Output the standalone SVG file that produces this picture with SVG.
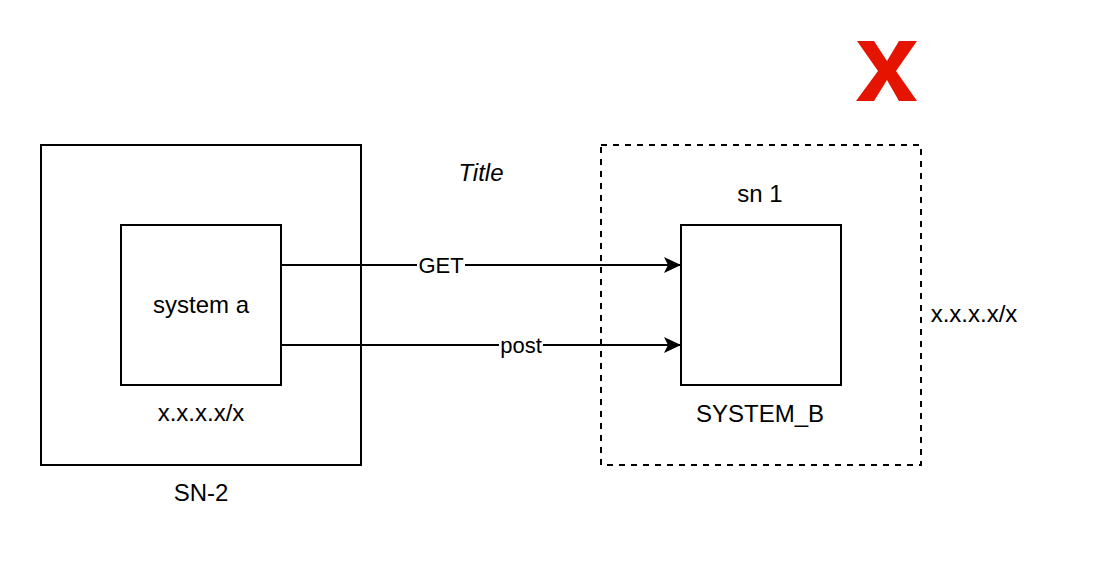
<svg xmlns="http://www.w3.org/2000/svg" width="1098" height="566" viewBox="0 0 1098 566">
  <style>
    .box { fill: #ffffff; stroke: #000000; stroke-width: 2; }
    .dash { fill: none; stroke: #000000; stroke-width: 2; stroke-dasharray: 6 6; }
    .lbl { font-family: "Liberation Sans", Helvetica, Arial, sans-serif; font-size: 24px; fill: #000000; text-anchor: middle; }
    .edge { fill: none; stroke: #000000; stroke-width: 2; }
    .elbl { font-family: "Liberation Sans", Helvetica, Arial, sans-serif; font-size: 22px; fill: #000000; text-anchor: middle; }
  </style>
  <defs>
    <marker id="arrow" markerUnits="userSpaceOnUse" markerWidth="20" markerHeight="20" viewBox="0 0 20 20" refX="17" refY="10" orient="auto">
      <path d="M17,10 L0,2 L4,10 L0,18 Z" fill="#000000" stroke="none"/>
    </marker>
  </defs>
  <rect width="1098" height="566" fill="#ffffff"/>

  <g id="sn2">
    <rect class="box" x="41" y="145" width="320" height="320"/>
    <text class="lbl" x="201" y="501">SN-2</text>
  </g>
  <g id="system-a">
    <rect class="box" x="121" y="225" width="160" height="160"/>
    <text class="lbl" x="201" y="313">system a</text>
  </g>
  <g id="addr-a">
    <text class="lbl" x="201" y="421">x.x.x.x/x</text>
  </g>
  <g id="sn1">
    <rect class="dash" x="601" y="145" width="320" height="320"/>
    <text class="lbl" x="760" y="202">sn 1</text>
  </g>
  <g id="addr-b">
    <text class="lbl" x="974" y="322">x.x.x.x/x</text>
  </g>
  <g id="system-b">
    <rect class="box" x="681" y="225" width="160" height="160"/>
    <text class="lbl" x="760" y="422">SYSTEM_B</text>
  </g>
  <g id="title">
    <text class="lbl" x="481" y="181" font-style="italic">Title</text>
  </g>
  <g id="red-x">
    <polygon fill="#e51400" points="857,41 874,41 887,61 899,41 917,41 896,71 917,101 899,101 887,80 874,101 856,101 878,71"/>
  </g>

  <g id="connectors">
    <line class="edge" x1="281" y1="265" x2="681" y2="265" marker-end="url(#arrow)"/>
    <rect x="417" y="254" width="48" height="22" fill="#ffffff"/>
    <text class="elbl" x="441" y="273">GET</text>
    <line class="edge" x1="281" y1="345" x2="681" y2="345" marker-end="url(#arrow)"/>
    <rect x="499" y="334" width="44" height="22" fill="#ffffff"/>
    <text class="elbl" x="521" y="353">post</text>
  </g>
</svg>
